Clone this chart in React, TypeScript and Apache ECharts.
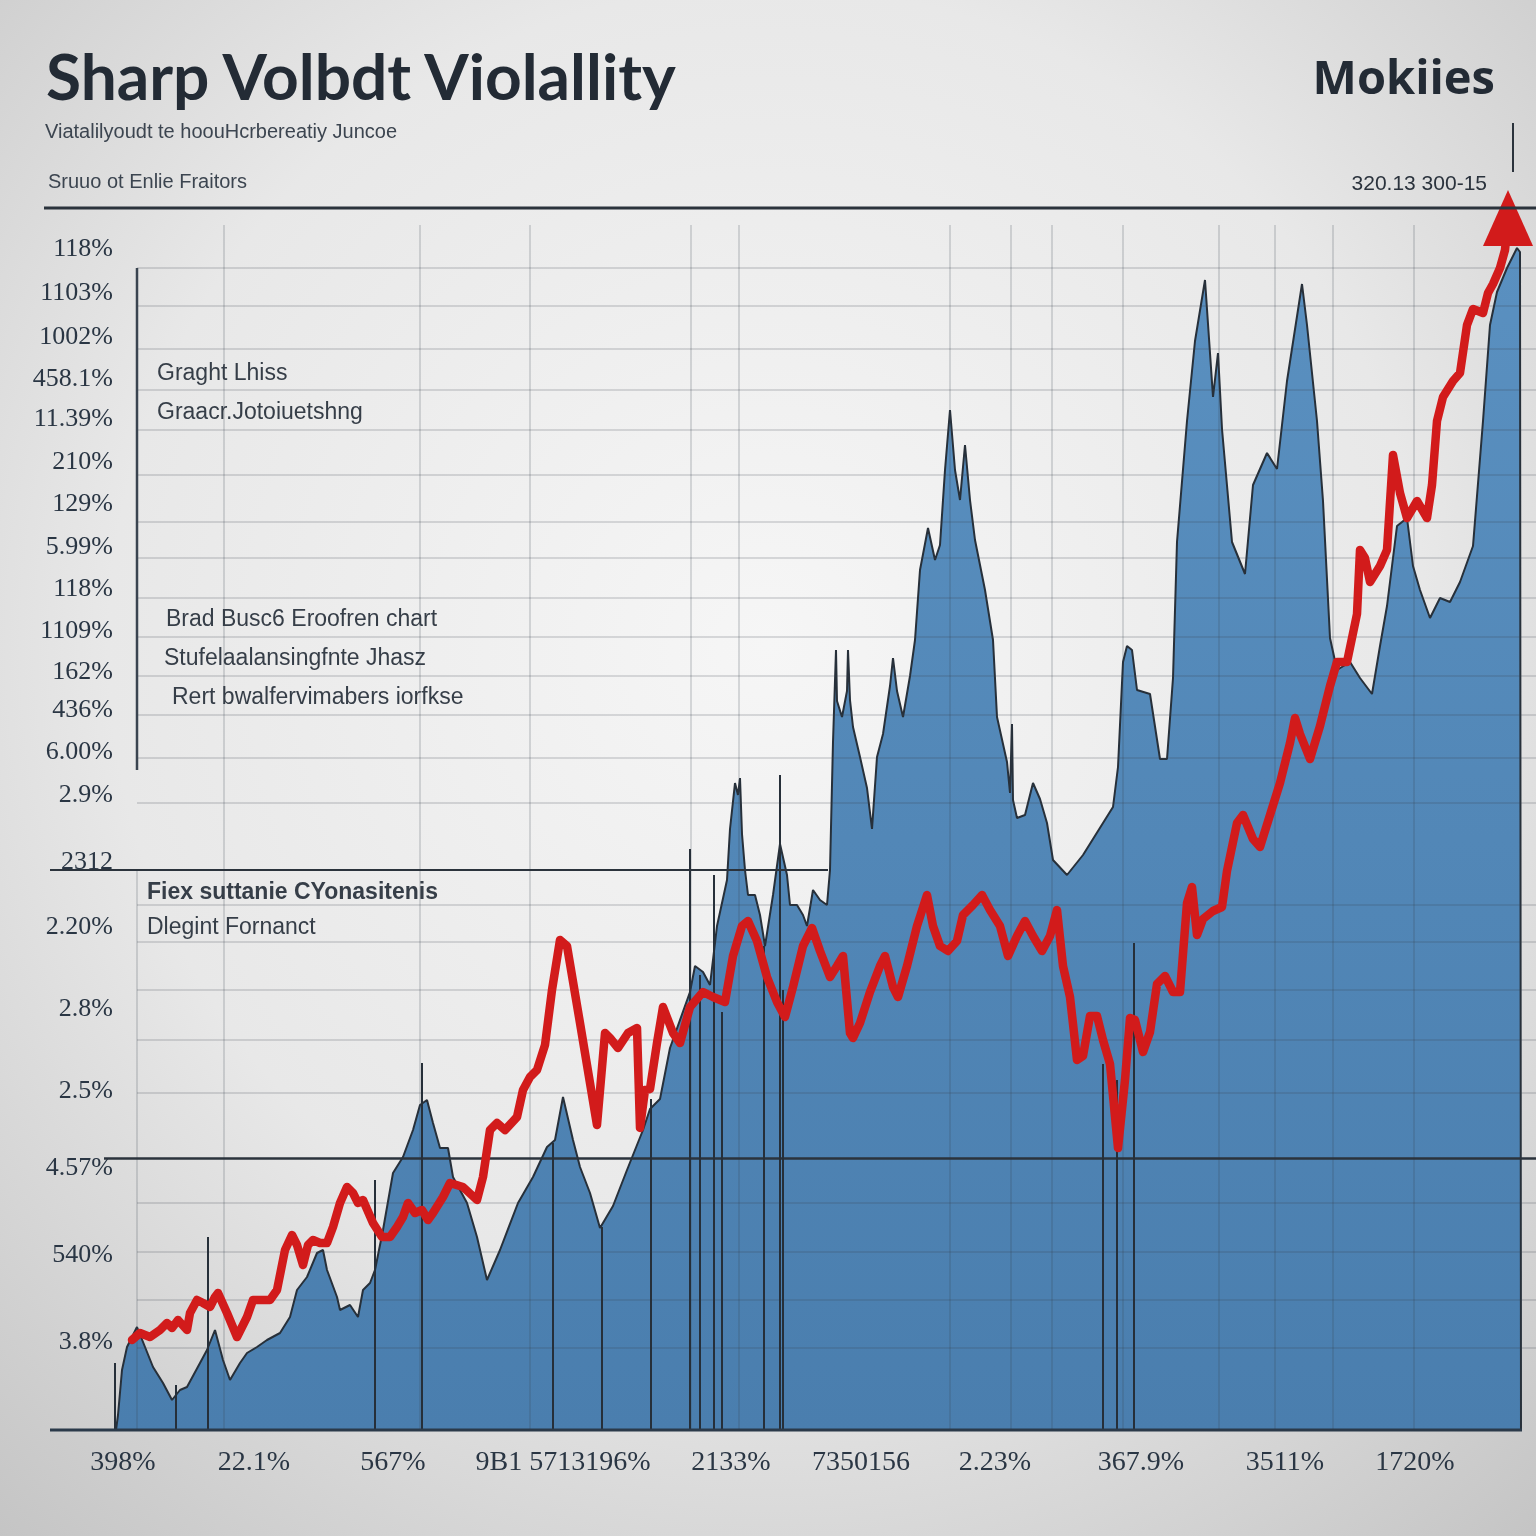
import React, { useEffect, useRef } from "react";
import * as echarts from "echarts";

// ---------- texts ----------
const titleText = "Sharp Volbdt Violallity";
const brandText = "Mokiies";
const subtitleText = "Viatalilyoudt te hoouHcrbereatiy Juncoe";
const sourceText = "Sruuo ot Enlie Fraitors";
const dateText = "320.13 300-15";

const annotations = [
  { text: "Graght Lhiss", x: 157, y: 372, bold: false },
  { text: "Graacr.Jotoiuetshng", x: 157, y: 411, bold: false },
  { text: "Brad Busc6 Eroofren chart", x: 166, y: 618, bold: false },
  { text: "Stufelaalansingfnte Jhasz", x: 164, y: 657, bold: false },
  { text: "Rert bwalfervimabers iorfkse", x: 172, y: 696, bold: false },
  { text: "Fiex suttanie CYonasitenis", x: 147, y: 891, bold: true },
  { text: "Dlegint Fornanct", x: 147, y: 926, bold: false },
];

// ---------- axes ----------
const yTickValues = [118.3, 113.9, 109.5, 105.3, 101.3, 97.0, 92.8, 88.5, 84.3, 80.1, 76.0, 72.2, 68.0, 63.7, 57.0, 50.5, 42.3, 34.1, 26.4, 17.7, 9.0];
const yTickLabels = ["118%", "1103%", "1002%", "458.1%", "11.39%", "210%", "129%", "5.99%", "118%", "1109%", "162%", "436%", "6.00%", "2.9%", "2312", "2.20%", "2.8%", "2.5%", "4.57%", "540%", "3.8%"];
const xTickValues = [1.9, 15.0, 28.9, 45.9, 62.7, 75.7, 89.1, 103.7, 118.1, 131.1];
const xTickLabels = ["398%", "22.1%", "567%", "9B1 5713196%", "2133%", "7350156", "2.23%", "367.9%", "3511%", "1720%"];

const gridYValues = [116.2, 112.4, 108.1, 104.0, 100.0, 95.5, 90.8, 87.2, 83.2, 79.3, 75.4, 71.5, 67.2, 62.7, 52.5, 48.8, 44.0, 39.0, 33.7, 22.7, 17.8, 13.0, 8.2];
const gridXValues = [12.0, 31.6, 42.6, 58.7, 63.5, 84.6, 90.7, 94.8, 101.9, 111.5, 117.1, 122.9, 131.0];
const referenceY = 27.2;

// ---------- series ----------
const areaPoints: [number, number][] = [
  [1.2, 0], [1.4, 1.5], [1.8, 6.0], [2.3, 8.3], [3.3, 10.3], [4.3, 7.8], [4.9, 6.3], [5.9, 4.7], [6.8, 3.0], [7.6, 4.0],
  [8.3, 4.3], [9.6, 6.7], [10.3, 8.0], [11.1, 10.0], [11.9, 7.0], [12.6, 5.0], [13.6, 6.7], [14.3, 7.7], [15.3, 8.3], [16.3, 9.0],
  [17.6, 9.7], [18.6, 11.3], [19.3, 14.0], [20.3, 15.3], [21.3, 17.7], [21.9, 18.0], [22.3, 16.0], [23.3, 13.3], [23.6, 12.0], [24.6, 12.5],
  [25.4, 11.3], [25.9, 14.0], [26.6, 14.7], [27.1, 16.0], [27.9, 20.0], [28.9, 25.7], [29.9, 27.3], [30.9, 30.0], [31.6, 32.5], [32.3, 33.0],
  [32.9, 30.7], [33.6, 28.2], [34.4, 28.2], [34.9, 25.3], [36.3, 22.7], [37.3, 19.3], [38.3, 15.0], [39.6, 18.0], [41.4, 22.7], [42.9, 25.3],
  [44.3, 28.3], [45.1, 29.0], [45.9, 33.3], [46.9, 29.0], [47.6, 26.3], [48.6, 23.7], [49.6, 20.2], [50.9, 22.4], [52.3, 26.0], [53.9, 30.0],
  [54.6, 32.1], [55.6, 33.1], [56.6, 38.2], [58.6, 43.8], [59.1, 46.4], [59.9, 45.8], [60.6, 44.5], [61.3, 50.4], [62.3, 55.0], [62.6, 60.1],
  [63.1, 64.7], [63.4, 63.5], [63.6, 65.2], [63.8, 59.6], [64.1, 56.0], [64.4, 53.5], [65.1, 53.5], [65.6, 51.5], [66.1, 48.4], [66.9, 53.5],
  [67.6, 58.6], [68.3, 55.5], [68.6, 52.5], [69.3, 52.5], [69.9, 51.5], [70.3, 50.4], [70.9, 54.0], [71.6, 53.0], [72.3, 52.5], [72.6, 56.0],
  [72.9, 68.8], [73.2, 78.0], [73.3, 72.9], [73.8, 71.3], [74.3, 73.9], [74.4, 78.0], [74.6, 73.0], [74.9, 70.3], [75.6, 67.3], [76.3, 64.2],
  [76.8, 60.1], [77.3, 67.3], [77.9, 69.6], [78.6, 74.4], [78.9, 77.2], [79.3, 73.9], [79.9, 71.3], [80.6, 75.4], [81.1, 79.0], [81.6, 86.0],
  [82.4, 90.2], [83.1, 87.0], [83.6, 88.5], [84.1, 96.0], [84.6, 102.0], [85.1, 96.0], [85.6, 93.0], [86.1, 98.5], [86.6, 93.0], [87.1, 89.0],
  [88.1, 84.0], [88.9, 79.0], [89.3, 71.3], [90.3, 66.8], [90.6, 63.7], [90.8, 70.6], [90.9, 63.0], [91.3, 61.2], [92.1, 61.5], [92.9, 64.7],
  [93.6, 63.1], [94.3, 60.7], [94.9, 57.0], [96.3, 55.5], [97.9, 57.5], [98.9, 59.1], [100.9, 62.3], [101.4, 66.3], [101.9, 76.8], [102.3, 78.4],
  [102.8, 78.0], [103.3, 74.0], [104.6, 73.6], [105.6, 67.1], [106.3, 67.1], [106.9, 75.2], [107.3, 88.8], [108.3, 100.9], [109.1, 108.9], [110.1, 115.0],
  [110.9, 103.3], [111.4, 107.7], [111.8, 100.1], [112.8, 88.8], [114.1, 85.6], [114.9, 94.5], [116.3, 97.7], [117.3, 96.1], [118.3, 104.9], [119.8, 114.6],
  [120.3, 110.5], [121.3, 100.9], [121.9, 92.9], [122.6, 79.2], [123.3, 76.0], [124.6, 76.8], [125.6, 75.2], [126.8, 73.6], [127.6, 78.4], [128.3, 82.4],
  [129.3, 90.4], [130.3, 91.2], [130.9, 86.4], [131.6, 84.0], [132.6, 81.2], [133.6, 83.2], [134.6, 82.8], [135.6, 84.8], [136.9, 88.4], [137.9, 100.9],
  [138.6, 110.5], [139.3, 113.8], [140.3, 116.2], [141.3, 118.2], [141.6, 117.8], [141.7, 0],
];

const redPoints: [number, number][] = [
  [2.8, 9.0], [3.6, 9.7], [4.6, 9.3], [5.6, 10.0], [6.3, 10.7], [6.8, 10.2], [7.4, 11.0], [8.3, 10.0], [8.6, 11.7], [9.3, 13.0],
  [9.9, 12.7], [10.6, 12.3], [11.1, 13.3], [11.4, 13.7], [12.3, 11.7], [13.3, 9.3], [14.3, 11.3], [14.9, 13.0], [15.6, 13.0], [16.6, 13.0],
  [17.3, 14.0], [18.1, 18.0], [18.8, 19.5], [19.3, 18.5], [19.9, 16.5], [20.4, 18.5], [20.9, 19.0], [21.6, 18.7], [22.3, 18.7], [22.9, 20.3],
  [23.6, 22.7], [24.3, 24.3], [24.9, 23.7], [25.4, 22.7], [25.9, 23.0], [26.9, 20.7], [27.8, 19.3], [28.6, 19.3], [29.3, 20.3], [29.9, 21.3],
  [30.4, 22.7], [31.1, 21.7], [31.8, 22.0], [32.4, 21.0], [32.9, 21.7], [33.9, 23.3], [34.6, 24.7], [35.9, 24.3], [37.3, 23.0], [37.9, 25.3],
  [38.6, 30.0], [39.3, 30.7], [40.1, 30.0], [41.3, 31.3], [41.9, 34.0], [42.6, 35.3], [43.3, 36.0], [44.1, 38.5], [44.8, 44.0], [45.6, 49.0],
  [46.3, 48.4], [47.6, 40.7], [49.3, 30.5], [50.1, 39.7], [50.6, 39.2], [51.4, 38.2], [52.4, 39.7], [53.3, 40.2], [53.6, 30.2], [54.1, 34.0],
  [54.6, 34.1], [55.3, 38.7], [55.9, 42.3], [56.9, 39.7], [57.6, 38.7], [58.6, 42.3], [59.9, 43.8], [60.9, 43.3], [62.1, 42.8], [62.9, 47.4],
  [63.8, 50.4], [64.4, 50.9], [65.3, 48.9], [66.3, 45.3], [67.3, 42.8], [68.1, 41.3], [68.9, 44.3], [69.9, 48.4], [70.8, 50.2], [71.6, 47.9],
  [72.6, 45.3], [73.3, 46.4], [73.9, 47.4], [74.6, 39.7], [74.9, 39.2], [75.6, 40.7], [76.6, 43.8], [77.6, 46.4], [78.1, 47.4], [78.9, 44.3],
  [79.4, 43.3], [80.3, 46.4], [81.3, 50.4], [82.3, 53.5], [82.9, 50.4], [83.6, 48.4], [84.4, 47.9], [85.3, 48.9], [85.9, 51.5], [86.9, 52.5],
  [87.8, 53.5], [88.6, 52.0], [89.6, 50.4], [90.4, 47.4], [91.3, 49.4], [92.1, 50.9], [92.9, 49.4], [93.8, 47.9], [94.6, 49.4], [95.3, 52.0],
  [95.9, 46.4], [96.6, 43.3], [97.3, 37.0], [97.9, 37.4], [98.6, 41.4], [99.3, 41.4], [99.9, 39.0], [100.6, 36.6], [101.4, 28.2], [102.1, 35.0],
  [102.6, 41.2], [103.1, 41.0], [103.9, 37.8], [104.6, 39.8], [105.3, 44.6], [106.1, 45.4], [106.9, 43.8], [107.6, 43.8], [108.3, 52.7], [108.8, 54.3],
  [109.3, 49.5], [109.9, 51.1], [110.9, 51.9], [111.8, 52.3], [112.3, 55.9], [113.3, 60.7], [113.9, 61.5], [114.9, 59.1], [115.6, 58.3], [116.6, 61.5],
  [117.6, 64.7], [118.6, 68.7], [119.1, 71.2], [119.6, 69.6], [120.6, 67.1], [121.6, 70.4], [122.6, 74.4], [123.3, 76.8], [124.3, 76.8], [125.3, 81.6],
  [125.6, 88.0], [126.1, 87.2], [126.6, 84.8], [127.6, 86.4], [128.3, 88.0], [128.9, 97.5], [129.6, 93.7], [130.3, 91.2], [131.3, 92.9], [132.3, 91.2],
  [132.8, 94.5], [133.3, 100.9], [133.9, 103.3], [134.9, 104.9], [135.6, 105.7], [136.3, 110.5], [136.9, 112.1], [137.9, 111.7], [138.4, 113.7], [138.9, 114.6],
  [139.6, 116.2], [140.1, 118.0],
];
const arrowPoint: [number, number] = [140.4, 121.2];

const spikeX = [1.1, 7.2, 10.4, 27.1, 31.8, 44.9, 49.8, 54.7, 58.6, 59.6, 61.0, 61.8, 66.0, 67.6, 67.9, 99.9, 101.3, 103.0];
const spikeTop = [6.7, 4.5, 19.3, 25.0, 36.7, 28.7, 20.3, 33.1, 58.1, 45.5, 55.5, 41.8, 48.4, 65.5, 44.0, 36.6, 35.0, 48.7];

const X_MAX = 143.2;
const Y_MAX = 122.2;

const nearestLabel = (vals: number[], labs: string[]) => (v: number) => {
  let bi = 0;
  let bd = Infinity;
  vals.forEach((x, i) => {
    const d = Math.abs(x - v);
    if (d < bd) {
      bd = d;
      bi = i;
    }
  });
  return labs[bi];
};

const INK = "#27303a";

function buildOption() {
  const gridLines: any[] = [];
  gridYValues.forEach((y) => gridLines.push([{ coord: [3.3, y] }, { coord: [X_MAX, y] }]));
  gridXValues.forEach((x) => gridLines.push([{ coord: [x, 0] }, { coord: [x, 120.5] }]));
  gridLines.push([{ coord: [3.3, 0] }, { coord: [3.3, 56.0] }]);

  const spikeLines = spikeX.map((x, i) => [{ coord: [x, 0] }, { coord: [x, spikeTop[i]] }]);

  const graphic: any[] = [
    { type: "text", x: 46, y: 75, z: 20, style: { text: titleText, fill: "#232b35", font: "bold 64px Lato", align: "left", verticalAlign: "middle" } },
    { type: "text", x: 1495, y: 76, z: 20, style: { text: brandText, fill: "#232b35", font: "bold 47px 'Open Sans'", align: "right", verticalAlign: "middle" } },
    { type: "text", x: 45, y: 131, z: 20, style: { text: subtitleText, fill: "#3c4550", font: "20px 'Liberation Sans'", align: "left", verticalAlign: "middle" } },
    { type: "text", x: 48, y: 181, z: 20, style: { text: sourceText, fill: "#3c4550", font: "20px 'Liberation Sans'", align: "left", verticalAlign: "middle" } },
    { type: "text", x: 1487, y: 182, z: 20, style: { text: dateText, fill: "#2a323c", font: "21px 'Liberation Sans'", align: "right", verticalAlign: "middle" } },
    { type: "line", z: 20, shape: { x1: 44, y1: 208, x2: 1536, y2: 208 }, style: { stroke: "#2b333c", lineWidth: 3 } },
    { type: "line", z: 20, shape: { x1: 1513, y1: 123, x2: 1513, y2: 172 }, style: { stroke: "#2b333c", lineWidth: 2 } },
    { type: "line", z: 20, shape: { x1: 137, y1: 268, x2: 137, y2: 770 }, style: { stroke: "#3a4450", lineWidth: 2.5 } },
    { type: "line", z: 20, shape: { x1: 50, y1: 870, x2: 828, y2: 870 }, style: { stroke: "#2b333c", lineWidth: 2 } },
    { type: "line", z: 20, shape: { x1: 50, y1: 1430, x2: 1522, y2: 1430 }, style: { stroke: "#2b3a4a", lineWidth: 3 } },
  ];
  annotations.forEach((a) =>
    graphic.push({
      type: "text",
      x: a.x,
      y: a.y,
      z: 20,
      style: {
        text: a.text,
        fill: "#363e48",
        font: (a.bold ? "bold " : "") + "23px 'Liberation Sans'",
        align: "left",
        verticalAlign: "middle",
      },
    })
  );

  return {
    animation: false,
    backgroundColor: {
      type: "radial",
      x: 0.5,
      y: 0.42,
      r: 0.78,
      colorStops: [
        { offset: 0, color: "#f6f6f6" },
        { offset: 0.55, color: "#e8e8e8" },
        { offset: 1, color: "#c3c3c3" },
      ],
    },
    grid: { left: 104, right: 0, top: 208, bottom: 106, containLabel: false, outerBoundsMode: "none" },
    xAxis: {
      type: "value",
      min: 0,
      max: X_MAX,
      axisLine: { show: false },
      axisTick: { show: false },
      splitLine: { show: false },
      axisLabel: {
        customValues: xTickValues,
        formatter: nearestLabel(xTickValues, xTickLabels),
        margin: 16,
        color: "#2a3644",
        fontFamily: "Liberation Serif",
        fontSize: 28,
      },
    },
    yAxis: {
      type: "value",
      min: 0,
      max: Y_MAX,
      offset: -12,
      axisLine: { show: false },
      axisTick: { show: false },
      splitLine: { show: false },
      axisLabel: {
        customValues: yTickValues,
        formatter: nearestLabel(yTickValues, yTickLabels),
        margin: 3,
        color: "#2a3644",
        fontFamily: "Liberation Serif",
        fontSize: 26,
      },
    },
    graphic,
    series: [
      {
        name: "Volatility",
        type: "line",
        z: 2,
        data: areaPoints,
        symbol: "none",
        lineStyle: { color: INK, width: 2 },
        areaStyle: {
          origin: "start",
          opacity: 1,
          color: {
            type: "linear",
            x: 0,
            y: 0,
            x2: 0,
            y2: 1,
            colorStops: [
              { offset: 0, color: "#5a90c0" },
              { offset: 1, color: "#4a7eae" },
            ],
          },
        },
        silent: true,
      },
      {
        name: "grid",
        type: "line",
        z: 3,
        data: [],
        symbol: "none",
        silent: true,
        markLine: {
          silent: true,
          symbol: ["none", "none"],
          label: { show: false },
          lineStyle: { color: "rgba(55,65,78,0.22)", width: 1.6, type: "solid" },
          data: [
            ...gridLines,
            [
              { coord: [0, referenceY], lineStyle: { color: "#2b333c", width: 2.5, type: "solid" } },
              { coord: [X_MAX, referenceY] },
            ],
          ],
        },
      },
      {
        name: "spikes",
        type: "line",
        z: 4,
        data: [],
        symbol: "none",
        silent: true,
        markLine: {
          silent: true,
          symbol: ["none", "none"],
          label: { show: false },
          lineStyle: { color: "#262f39", width: 2, type: "solid" },
          data: spikeLines,
        },
      },
      {
        name: "Trend",
        type: "line",
        z: 6,
        clip: false,
        data: [
          ...redPoints,
          { value: arrowPoint, symbol: "triangle", symbolSize: [50, 56], itemStyle: { color: "#d21b1b" } },
        ],
        symbol: "circle",
        symbolSize: 0,
        showSymbol: true,
        showAllSymbol: true,
        itemStyle: { color: "#d21b1b" },
        lineStyle: { color: "#d21b1b", width: 8.5, cap: "round", join: "round" },
        silent: true,
      },
    ],
  };
}

export default function App() {
  const ref = useRef<HTMLDivElement>(null);
  useEffect(() => {
    if (!ref.current) return;
    const chart = echarts.init(ref.current, null, { renderer: "svg" });
    chart.setOption(buildOption() as any);
    return () => chart.dispose();
  }, []);
  return (
    <div
      ref={ref}
      style={{ position: "fixed", left: 0, top: 0, width: 1536, height: 1536 }}
    />
  );
}
